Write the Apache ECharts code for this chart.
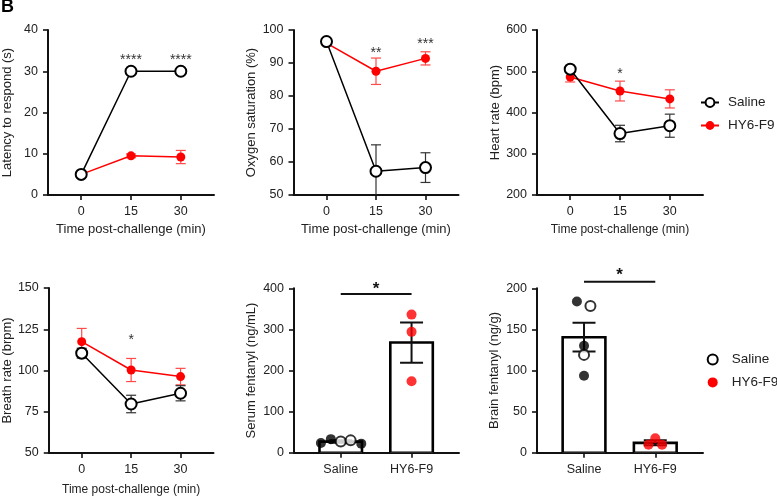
<!DOCTYPE html>
<html>
<head>
<meta charset="utf-8">
<script src="https://cdn.jsdelivr.net/npm/echarts@6/dist/echarts.min.js"></script>
<style>html,body{margin:0;padding:0;background:#fff;}#c{width:777px;height:498px;}</style>
</head>
<body>
<div id="c"></div>
<script>
// ---------- DATA ----------
const timePoints = [0, 15, 30];
const timeTicks = [0, 15, 30];

const latencySaline = [5, 30, 30];
const latencySalineErr = [0, 0, 0];
const latencyHY = [5, 9.5, 9.2];
const latencyHYErr = [0.2, 0.45, 1.6];
const latencySig = [{x: 15, y: 32.7, label: '****'}, {x: 30, y: 32.7, label: '****'}];

const oxySaline = [96.5, 57.2, 58.3];
const oxySalineErr = [0.4, 8, 4.5];
const oxyHY = [96, 87.5, 91.4];
const oxyHYErr = [0.4, 4, 2];
const oxySig = [{x: 15, y: 93, label: '**'}, {x: 30, y: 95.8, label: '***'}];

const hrSaline = [505, 349, 368];
const hrSalineErr = [0, 20, 28];
const hrHY = [486, 452, 433];
const hrHYErr = [12, 24, 22];
const hrSig = [{x: 15, y: 493, label: '*'}];

const brSaline = [110.5, 79.7, 86.2];
const brSalineErr = [3, 5.3, 4.6];
const brHY = [117.5, 100.3, 96.3];
const brHYErr = [8, 7, 5];
const brSig = [{x: 15, y: 118.5, label: '*'}];

const groups = ['Saline', 'HY6-F9'];
const serumMean = [27, 268];
const serumSem = [3, 49];
const serumSalinePts = [23.6, 33, 27, 30, 22];
const serumSalineFilled = [true, true, false, false, true];
const serumHYPts = [336, 294, 174];
const serumSigBar = {from: 1, to: 2, y: 386, label: '*'};

const brainMean = [140.5, 12];
const brainSem = [17.5, 3];
const brainSalinePts = [184, 178.5, 130, 119, 93.7];
const brainSalineFilled = [true, false, true, false, true];
const brainHYPts = [9.8, 17.5, 9.8];
const brainSigBar = {from: 1, to: 2, y: 208, label: '*'};

// ---------- LAYOUT (swarm offsets, in category units) ----------
const swarmSerumSaline = [-0.28, -0.14, 0, 0.14, 0.29];
const swarmSerumHY = [0, 0, 0];
const swarmBrainSaline = [-0.1, 0.09, 0, 0, 0];
const swarmBrainHY = [-0.095, 0, 0.095];

// ---------- STYLE ----------
const FONT = "'Liberation Sans', Arial, Helvetica, sans-serif";
const AX = '#111';
const TXT = '#222';
const RED = '#ff0000';
const RED_ERR = '#ff4a4a';

const grids = [
  {left: 48, top: 30, width: 166, height: 165},
  {left: 293.5, top: 30, width: 165, height: 165},
  {left: 537, top: 30, width: 166, height: 165},
  {left: 48.5, top: 288, width: 165, height: 165},
  {left: 294, top: 288.3, width: 165, height: 164.4},
  {left: 537, top: 288.3, width: 166, height: 164.4}
];

function axisCommon() {
  return {
    axisLine: {show: true, onZero: false, lineStyle: {color: AX, width: 2}},
    axisTick: {show: true, inside: false, length: 5, lineStyle: {color: AX, width: 1.6}},
    splitLine: {show: false},
    axisLabel: {color: TXT, fontSize: 12.5, fontFamily: FONT, margin: 10}
  };
}

function timeXAxis(i, nameSize, nameGap) {
  const a = axisCommon();
  return Object.assign({
    type: 'value', gridIndex: i, min: -10, max: 40,
    name: 'Time post-challenge (min)', nameLocation: 'middle', nameGap: nameGap,
    nameTextStyle: {color: TXT, fontSize: nameSize, fontFamily: FONT}
  }, a, {
    axisTick: Object.assign({}, a.axisTick, {customValues: timeTicks}),
    axisLabel: Object.assign({}, a.axisLabel, {customValues: timeTicks})
  });
}

function groupXAxis(i) {
  const a = axisCommon();
  return Object.assign({
    type: 'value', gridIndex: i, min: 0.34, max: 2.67
  }, a, {
    axisTick: Object.assign({}, a.axisTick, {customValues: [1, 2]}),
    axisLabel: Object.assign({}, a.axisLabel, {customValues: [1, 2], fontSize: 12.5,
      formatter: v => groups[Math.round(v) - 1]})
  });
}

function yAxis(i, min, max, interval, name, gap) {
  return Object.assign({
    type: 'value', gridIndex: i, min: min, max: max, interval: interval,
    name: name, nameLocation: 'middle', nameGap: gap,
    nameTextStyle: {color: TXT, fontSize: 13, fontFamily: FONT}
  }, axisCommon());
}

function errorBars(capPx, color, lw) {
  return function (params, api) {
    const x = api.value(0), m = api.value(1), e = api.value(2);
    if (!(e > 0)) return {type: 'group', children: []};
    const p1 = api.coord([x, m + e]);
    const p2 = api.coord([x, m - e]);
    const h = capPx / 2;
    const st = {stroke: color, lineWidth: lw};
    return {type: 'group', children: [
      {type: 'line', shape: {x1: p1[0], y1: p1[1], x2: p2[0], y2: p2[1]}, style: st},
      {type: 'line', shape: {x1: p1[0] - h, y1: p1[1], x2: p1[0] + h, y2: p1[1]}, style: st},
      {type: 'line', shape: {x1: p2[0] - h, y1: p2[1], x2: p2[0] + h, y2: p2[1]}, style: st}
    ]};
  };
}

function errSeries(i, xs, means, errs, capPx, color, lw, z) {
  return {
    type: 'custom', xAxisIndex: i, yAxisIndex: i, clip: true, z: z, silent: true,
    renderItem: errorBars(capPx, color, lw),
    encode: {x: 0, y: 1},
    data: xs.map((x, j) => [x, means[j], errs[j]])
  };
}

function lineSeries(i, name, vals, isSaline) {
  return {
    type: 'line', name: name, xAxisIndex: i, yAxisIndex: i, z: isSaline ? 4 : 3,
    data: timePoints.map((t, j) => [t, vals[j]]),
    symbol: 'circle', symbolSize: isSaline ? 11 : 9,
    lineStyle: {color: isSaline ? '#000' : RED, width: 1.5},
    itemStyle: isSaline ? {color: '#fff', borderColor: '#000', borderWidth: 2}
                        : {color: RED, borderColor: RED, borderWidth: 0},
    emphasis: {disabled: true}, animation: false
  };
}

function sigSeries(i, sig, size, weight, color) {
  return {
    type: 'custom', xAxisIndex: i, yAxisIndex: i, clip: false, z: 6, silent: true,
    encode: {x: 0, y: 1},
    data: sig.map(s => [s.x, s.y]),
    renderItem: function (params, api) {
      const p = api.coord([api.value(0), api.value(1)]);
      return {type: 'text', x: p[0], y: p[1], style: {
        text: sig[params.dataIndex].label, fill: color, font: weight + ' ' + size + 'px ' + FONT,
        align: 'center', verticalAlign: 'middle'}};
    }
  };
}

function barSeries(i, means) {
  return {
    type: 'custom', xAxisIndex: i, yAxisIndex: i, clip: true, z: 2, silent: true,
    encode: {x: 0, y: 1},
    data: means.map((m, j) => [j + 1, m]),
    renderItem: function (params, api) {
      const x = api.value(0), v = api.value(1);
      const w = api.size([0.6, 0])[0];
      const p0 = api.coord([x, 0]), p1 = api.coord([x, v]);
      return {type: 'rect', shape: {x: p0[0] - w / 2, y: p1[1], width: w, height: p0[1] - p1[1]},
        style: {fill: '#fff', stroke: '#000', lineWidth: 2.6}};
    }
  };
}

function ptsSeries(i, name, groupIdx, vals, offsets, filled, color) {
  return {
    type: 'scatter', name: name, xAxisIndex: i, yAxisIndex: i, z: 5, symbolSize: 10,
    emphasis: {disabled: true}, animation: false,
    data: vals.map((v, j) => {
      const isFilled = filled ? filled[j] : true;
      return {
        value: [groupIdx + offsets[j], v],
        itemStyle: color ? {color: color}
          : (isFilled ? {color: '#000'} : {color: '#fff', borderColor: '#000', borderWidth: 2})
      };
    })
  };
}

function sigBarSeries(i, bar, starSize, starLift) {
  return {
    type: 'custom', xAxisIndex: i, yAxisIndex: i, clip: false, z: 6, silent: true,
    encode: {x: 0, y: 1},
    data: [[bar.from, bar.y, bar.to]],
    renderItem: function (params, api) {
      const a = api.coord([api.value(0), api.value(1)]);
      const b = api.coord([api.value(2), api.value(1)]);
      return {type: 'group', children: [
        {type: 'line', shape: {x1: a[0], y1: a[1], x2: b[0], y2: b[1]}, style: {stroke: '#111', lineWidth: 2}},
        {type: 'text', x: (a[0] + b[0]) / 2, y: a[1] - starLift, style: {
          text: bar.label, fill: '#111', font: 'bold ' + starSize + 'px ' + FONT,
          align: 'center', verticalAlign: 'middle'}}
      ]};
    }
  };
}

const option = {
  backgroundColor: '#fff',
  animation: false,
  textStyle: {fontFamily: FONT},
  grid: grids,
  xAxis: [
    timeXAxis(0, 13, 28),
    timeXAxis(1, 13, 28),
    timeXAxis(2, 12, 29),
    timeXAxis(3, 12, 31),
    groupXAxis(4),
    groupXAxis(5)
  ],
  yAxis: [
    yAxis(0, 0, 40, 10, 'Latency to respond (s)', 34),
    yAxis(1, 50, 100, 10, 'Oxygen saturation (%)', 35.5),
    yAxis(2, 200, 600, 100, 'Heart rate (bpm)', 35.5),
    yAxis(3, 50, 150, 25, 'Breath rate (brpm)', 34.5),
    yAxis(4, 0, 400, 100, 'Serum fentanyl (ng/mL)', 36),
    yAxis(5, 0, 200, 50, 'Brain fentanyl (ng/g)', 36)
  ],
  legend: [
    {
      orient: 'vertical', left: 695, top: 90.5, itemWidth: 18, itemHeight: 11, itemGap: 9,
      selectedMode: false,
      textStyle: {color: TXT, fontSize: 13.5, fontFamily: FONT, padding: [0, 0, 0, 4]},
      data: ['Saline', 'HY6-F9']
    },
    {
      orient: 'vertical', left: 701.7, top: 347.6, itemWidth: 28, itemHeight: 10, itemGap: 8.8,
      selectedMode: false,
      textStyle: {color: TXT, fontSize: 13.5, fontFamily: FONT},
      data: [
        {name: 'Saline', icon: 'circle', itemStyle: {color: '#fff', borderColor: '#000', borderWidth: 2}},
        {name: 'HY6-F9', icon: 'circle', itemStyle: {color: RED, borderWidth: 0}}
      ]
    }
  ],
  graphic: [
    {type: 'text', left: 1, top: -2, style: {text: 'B', fill: '#000', font: '900 18px ' + FONT}}
  ],
  series: [
    // legend sources first
    lineSeries(0, 'Saline', latencySaline, true),
    lineSeries(0, 'HY6-F9', latencyHY, false),
    errSeries(0, timePoints, latencyHY, latencyHYErr, 10, RED_ERR, 1.2, 1),
    errSeries(0, timePoints, latencySaline, latencySalineErr, 10, '#000', 1.2, 1),
    sigSeries(0, latencySig, 14, 'normal', '#333'),

    errSeries(1, timePoints, oxyHY, oxyHYErr, 10, RED_ERR, 1.2, 1),
    errSeries(1, timePoints, oxySaline, oxySalineErr, 10, '#333', 1.2, 1),
    lineSeries(1, 'HY6-F9', oxyHY, false),
    lineSeries(1, 'Saline', oxySaline, true),
    sigSeries(1, oxySig, 14, 'normal', '#333'),

    errSeries(2, timePoints, hrHY, hrHYErr, 10, RED_ERR, 1.2, 1),
    errSeries(2, timePoints, hrSaline, hrSalineErr, 10, '#333', 1.2, 1),
    lineSeries(2, 'HY6-F9', hrHY, false),
    lineSeries(2, 'Saline', hrSaline, true),
    sigSeries(2, hrSig, 14, 'normal', '#333'),

    errSeries(3, timePoints, brHY, brHYErr, 10, RED_ERR, 1.2, 1),
    errSeries(3, timePoints, brSaline, brSalineErr, 10, '#333', 1.2, 1),
    lineSeries(3, 'HY6-F9', brHY, false),
    lineSeries(3, 'Saline', brSaline, true),
    sigSeries(3, brSig, 14, 'normal', '#333'),

    barSeries(4, serumMean),
    errSeries(4, [1, 2], serumMean, serumSem, 23, '#111', 2, 3),
    ptsSeries(4, 'Saline points', 1, serumSalinePts, swarmSerumSaline, serumSalineFilled, null),
    ptsSeries(4, 'HY6-F9 points', 2, serumHYPts, swarmSerumHY, null, RED),
    sigBarSeries(4, serumSigBar, 17, 5),

    barSeries(5, brainMean),
    errSeries(5, [1, 2], brainMean, brainSem, 23, '#111', 2, 3),
    ptsSeries(5, 'Saline points', 1, brainSalinePts, swarmBrainSaline, brainSalineFilled, null),
    ptsSeries(5, 'HY6-F9 points', 2, brainHYPts, swarmBrainHY, null, RED),
    sigBarSeries(5, brainSigBar, 17, 6)
  ]
};

const chart = echarts.init(document.getElementById('c'), null, {renderer: 'canvas'});
chart.setOption(option);
</script>
</body>
</html>
